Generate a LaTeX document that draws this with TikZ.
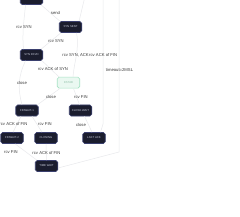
\documentclass[tikz,border=0pt]{standalone}
\usepackage{fontspec}
\setmainfont{Liberation Sans}
\definecolor{nodefill}{HTML}{1B1D2E}
\definecolor{nodeborder}{HTML}{3A3F6E}
\definecolor{nodetext}{HTML}{C8CCDA}
\definecolor{estfill}{HTML}{EAF8F1}
\definecolor{estborder}{HTML}{A6E2C4}
\definecolor{esttext}{HTML}{8FBFA8}
\definecolor{edgecol}{HTML}{E8E9EC}
\definecolor{lblcol}{HTML}{3A3A3A}
\tikzset{
  state/.style={draw=nodeborder, fill=nodefill, line width=0.6pt, rounded corners=1.8pt,
    minimum width=22.5pt, minimum height=11pt, inner sep=0pt, text=nodetext,
    font=\fontsize{2.8pt}{3pt}\selectfont},
  eststate/.style={state, draw=estborder, fill=estfill, text=esttext},
  edge/.style={draw=edgecol, line width=0.5pt},
  lbl/.style={inner sep=0pt, text=lblcol, font=\fontsize{4.2pt}{5pt}\selectfont}
}
\begin{document}
\begin{tikzpicture}[x=1pt,y=-1pt]
\useasboundingbox (0,0) rectangle (240,216);
\fill[white] (0,0) rectangle (240,216);
\clip (0,0) rectangle (240,216);
% states
\node[state] (listen) at (31.5,-1) {};
\node[state] (synsent) at (70.5,27) {SYN SENT};
\node[state] (synrcvd) at (31.5,55) {SYN RCVD};
\node[eststate] (estab) at (68.5,82.7) {ESTAB};
\node[state] (finwait1) at (27,110.5) {FINWAIT-1};
\node[state] (closewait) at (80.5,110.5) {CLOSE WAIT};
\node[state] (finwait2) at (12,138) {FINWAIT-2};
\node[state] (closing) at (46,138) {CLOSING};
\node[state] (lastack) at (94,138) {LAST ACK};
\node[state] (timewait) at (46.5,166) {TIME WAIT};
\coordinate (closedA) at (87,-12);
\coordinate (closedB) at (103,-12);
\coordinate (closedC) at (119,-12);
\coordinate (bendB) at (103,124);
\coordinate (bendC) at (119,152);
% edges
\draw[edge] ([xshift=-6pt]listen.south) to[out=-95,in=95] ([xshift=-8pt]synrcvd.north);
\draw[edge] ([xshift=-2pt]listen.south east) -- ([xshift=1pt]synsent.north west);
\draw[edge] (closedA) -- ([xshift=-3pt]synsent.north east);
\draw[edge] ([xshift=2pt]synsent.south west) -- ([xshift=-2pt]synrcvd.north east);
\draw[edge] ([xshift=6pt]synsent.south) to[out=-80,in=85] ([xshift=4.5pt]estab.north);
\draw[edge] ([xshift=-1pt]synrcvd.south east) -- ([xshift=2pt]estab.north west);
\draw[edge] ([xshift=-6pt]synrcvd.south) to[out=-115,in=105] ([xshift=-5pt]finwait1.north);
\draw[edge] ([xshift=3pt]estab.south west) -- ([xshift=-1pt]finwait1.north east);
\draw[edge] ([xshift=5pt]estab.south) -- ([xshift=-1pt]closewait.north);
\draw[edge] ([xshift=4pt]closewait.south) -- ([xshift=-2pt]lastack.north);
\draw[edge] ([xshift=-6pt]finwait1.south) -- ([xshift=1pt]finwait2.north);
\draw[edge] ([xshift=5pt]finwait1.south) -- ([xshift=-4pt]closing.north);
\draw[edge] ([xshift=3pt]finwait2.south) -- ([xshift=2pt]timewait.north west);
\draw[edge] (closing.south) -- (timewait.north);
\draw[edge] ([yshift=-2pt]timewait.east) -- (bendC) -- (closedC);
\draw[edge] ([xshift=-5pt]lastack.north east) -- (bendB) -- (closedB);
% labels
\node[lbl] (l1) at (24,27.5) {rcv SYN};
\node[lbl] (l2) at (55.5,13.5) {send};
\node[lbl] (l3) at (56,41.5) {rcv SYN};
\node[lbl, anchor=east] (l4) at (89,55) {rcv SYN, ACK};
\node[lbl, anchor=west] (l5) at (89,55) {rcv ACK of FIN};
\node[lbl] (l6) at (53,69.5) {rcv ACK of SYN};
\node[lbl] (l7) at (119.5,69.5) {timeout=2MSL};
\node[lbl] (l8) at (22,83) {close};
\node[lbl] (l9) at (51,97) {close};
\node[lbl] (l10) at (81,97) {rcv FIN};
\node[lbl] (l11) at (13.5,124.5) {rcv ACK of FIN};
\node[lbl] (l12) at (45,124.5) {rcv FIN};
\node[lbl] (l13) at (81,124.5) {close};
\node[lbl] (l14) at (11,152.5) {rcv FIN};
\node[lbl] (l15) at (46.5,152.5) {rcv ACK of FIN};
\end{tikzpicture}
\end{document}
